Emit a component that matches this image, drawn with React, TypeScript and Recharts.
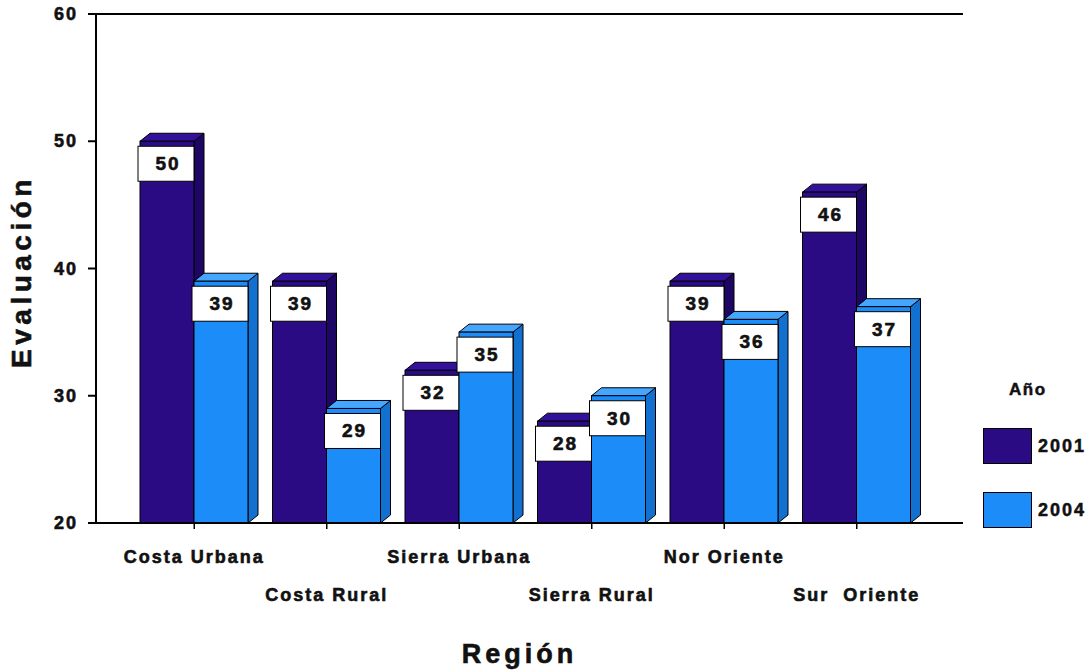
import { Bar, BarChart, ReferenceLine, XAxis, YAxis } from "recharts";

const regiones = [
  "Costa Urbana",
  "Costa Rural",
  "Sierra Urbana",
  "Sierra Rural",
  "Nor Oriente",
  "Sur  Oriente",
];
const eval2001 = [50, 39, 32, 28, 39, 46];
const eval2004 = [39, 29, 35, 30, 36, 37];
const yTicks = [20, 30, 40, 50, 60];
const series = [
  { key: "y2001", name: "2001", front: "#2b0b84", top: "#33119a", side: "#1e0664" },
  { key: "y2004", name: "2004", front: "#1c8cf8", top: "#45a6ff", side: "#1270d0" },
];

const data = regiones.map((r, i) => ({
  region: r,
  y2001: eval2001[i],
  y2004: eval2004[i],
}));

const FONT = '"Liberation Sans", Arial, sans-serif';
const INK = "#111";
const DX = 10;
const DY = 8;

// heavier look, the scan has a very dark bold face
const heavy = { stroke: INK, strokeWidth: 0.6, paintOrder: "stroke" as const };

const Bar3D = (props: any) => {
  const { x, y, width, height, front, top, side, value } = props;
  if (width == null || height == null) return null;
  const r = x + width;
  const b = y + height;
  return (
    <g>
      <polygon
        points={`${r},${y} ${r + DX},${y - DY} ${r + DX},${b - DY} ${r},${b}`}
        fill={side}
        stroke="#000"
        strokeWidth={1}
      />
      <polygon
        points={`${x},${y} ${x + DX},${y - DY} ${r + DX},${y - DY} ${r},${y}`}
        fill={top}
        stroke="#000"
        strokeWidth={1}
      />
      <rect x={x} y={y} width={width} height={height} fill={front} stroke="#000" strokeWidth={1} />
      <rect x={x - 2} y={y + 5} width={width + 2} height={35} fill="#fff" stroke="#000" strokeWidth={1} />
      <text
        x={x + width / 2 + 1}
        y={y + 29}
        textAnchor="middle"
        fontFamily={FONT}
        fontWeight="bold"
        fontSize={19}
        letterSpacing={2}
        fill={INK}
        {...heavy}
      >
        {value}
      </text>
    </g>
  );
};

const RegionTick = (props: any) => {
  const { x, y, payload, index } = props;
  const dy = index % 2 === 0 ? 40 : 78;
  return (
    <text
      x={x}
      y={y + dy - 8}
      textAnchor="middle"
      fontFamily={FONT}
      fontWeight="bold"
      fontSize={18}
      letterSpacing={2}
      fill={INK}
      {...heavy}
      style={{ whiteSpace: "pre" }}
    >
      {payload.value}
    </text>
  );
};

const ValueTick = (props: any) => {
  const { x, y, payload } = props;
  return (
    <text
      x={x + 2}
      y={y + 6}
      textAnchor="end"
      fontFamily={FONT}
      fontWeight="bold"
      fontSize={18}
      letterSpacing={2}
      fill={INK}
      {...heavy}
    >
      {payload.value}
    </text>
  );
};

export default function App() {
  return (
    <div style={{ position: "absolute", left: 0, top: 0, width: 1092, height: 670, background: "#fff" }}>
      <BarChart
        width={1092}
        height={670}
        data={data}
        margin={{ top: 14, right: 129, bottom: 47, left: 0 }}
        barGap={0}
        barSize={54}
      >
        <XAxis
          dataKey="region"
          height={100}
          padding={{ left: 32, right: 40 }}
          axisLine={{ stroke: "#000", strokeWidth: 2 }}
          tickLine={{ stroke: "#000", strokeWidth: 1.5 }}
          tickSize={6}
          interval={0}
          tick={<RegionTick />}
          label={{
            content: ({ viewBox }: any) => (
              <text
                x={viewBox.x + viewBox.width / 2 - 10}
                y={663}
                textAnchor="middle"
                fontFamily={FONT}
                fontWeight="bold"
                fontSize={27}
                letterSpacing={4}
                fill={INK}
                {...heavy}
              >
                Región
              </text>
            ),
          }}
        />
        <YAxis
          yAxisId="left"
          width={96}
          domain={[20, 60]}
          ticks={yTicks}
          interval={0}
          allowDataOverflow
          axisLine={{ stroke: "#000", strokeWidth: 2 }}
          tickLine={{ stroke: "#000", strokeWidth: 2 }}
          tickSize={8}
          tickMargin={12}
          tick={<ValueTick />}
          label={{
            content: ({ viewBox }: any) => {
              const cy = viewBox.y + viewBox.height / 2 + 3;
              return (
                <text
                  x={31}
                  y={cy}
                  transform={`rotate(-90 31 ${cy})`}
                  textAnchor="middle"
                  fontFamily={FONT}
                  fontWeight="bold"
                  fontSize={28}
                  letterSpacing={4.5}
                  fill={INK}
                  {...heavy}
                >
                  Evaluación
                </text>
              );
            },
          }}
        />
        <YAxis
          yAxisId="right"
          orientation="right"
          width={0}
          domain={[20, 60]}
          tick={false}
          tickLine={false}
          axisLine={{ stroke: "#000", strokeWidth: 2 }}
        />
        <ReferenceLine yAxisId="left" y={60} stroke="#000" strokeWidth={2} />
        {series.map((s) => (
          <Bar
            key={s.key}
            yAxisId="left"
            dataKey={s.key}
            name={s.name}
            fill={s.front}
            isAnimationActive={false}
            shape={(p: any) => (
              <Bar3D {...p} front={s.front} top={s.top} side={s.side} value={p.payload[s.key]} />
            )}
          />
        ))}
      </BarChart>
      <div
        style={{
          position: "absolute",
          left: 1009,
          top: 380,
          fontFamily: FONT,
          fontWeight: "bold",
          fontSize: 17,
          letterSpacing: 1.5,
          color: INK,
          WebkitTextStroke: "0.5px #111",
        }}
      >
        Año
      </div>
      {series.map((s, i) => (
        <div
          key={s.key}
          style={{
            position: "absolute",
            left: 983,
            top: 428 + i * 64,
            display: "flex",
            alignItems: "center",
            fontFamily: FONT,
            fontWeight: "bold",
            fontSize: 18,
            letterSpacing: 2,
            color: INK,
            WebkitTextStroke: "0.5px #111",
          }}
        >
          <div style={{ width: 47, height: 34, background: s.front, border: "1px solid #000", marginRight: 6 }} />
          {s.name}
        </div>
      ))}
    </div>
  );
}
